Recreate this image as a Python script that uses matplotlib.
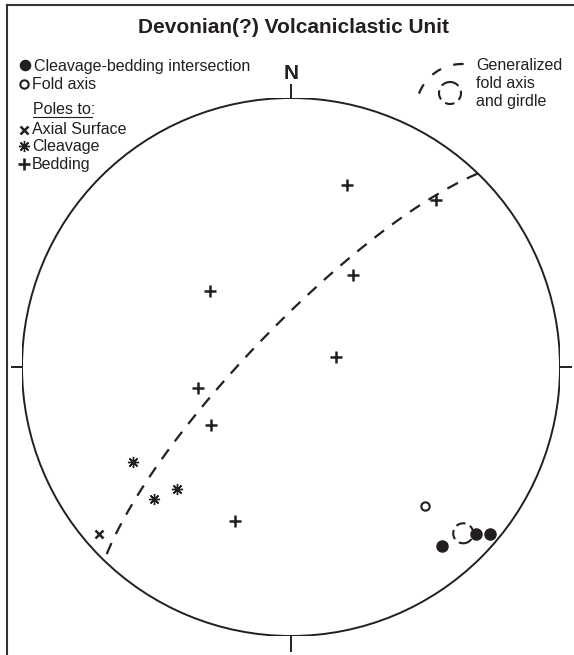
import numpy as np
import matplotlib.pyplot as plt
from matplotlib.patches import Circle

plt.rcParams['font.family'] = ['Liberation Sans', 'DejaVu Sans']

INK = '#231f20'

# Orientation data, trend / plunge in degrees (lower hemisphere)
bedding_trend = [17, 41, 34, 313, 77, 257, 234, 200]
bedding_plunge = [30, 19, 56, 56, 76, 61, 60, 39]

cleavage_trend = [239, 226, 223]
cleavage_plunge = [32, 30, 38]

axial_trend = [229]
axial_plunge = [6]

intersection_trend = [140, 132, 130]
intersection_plunge = [14, 8, 4]

fold_axis_trend = [136]
fold_axis_plunge = [29]

# generalized fold axis; the girdle is the plane normal to it
gen_axis_trend = 134
gen_axis_plunge = 12


def to_vec(trend, plunge):
    t = np.radians(trend)
    p = np.radians(plunge)
    return np.cos(p) * np.sin(t), np.cos(p) * np.cos(t), np.sin(p)


def equal_area(trend, plunge):
    x, y, z = to_vec(np.asarray(trend, float), np.asarray(plunge, float))
    k = 1.0 / np.sqrt(1.0 + z)
    return x * k, y * k


def great_circle(pole_trend, pole_plunge, n=300):
    strike = np.array([np.sin(np.radians(pole_trend - 90)),
                       np.cos(np.radians(pole_trend - 90)), 0.0])
    dip = np.array(to_vec(pole_trend + 180, 90 - pole_plunge))
    t = np.linspace(0, np.pi, n)
    v = np.outer(np.cos(t), strike) + np.outer(np.sin(t), dip)
    k = 1.0 / np.sqrt(1.0 + v[:, 2])
    return v[:, 0] * k, v[:, 1] * k


fig = plt.figure(figsize=(5.74, 6.55), dpi=100)

# page layer in pixel units for the frame, title and legend
sheet = fig.add_axes([0, 0, 1, 1])
sheet.set_xlim(0, 574)
sheet.set_ylim(655, 0)
sheet.axis('off')

sheet.plot([7, 574], [5, 5], color='#333333', lw=1.5)
sheet.plot([7, 7], [5, 655], color='#333333', lw=1.5)

sheet.text(294, 33, 'Devonian(?) Volcaniclastic Unit', ha='center', va='baseline',
           fontsize=15, fontweight='bold', color=INK)

# legend, left
fs = 11.5
star = (8, 2, 0)
sheet.plot(25, 64.5, 'o', ms=7.3, color=INK)
sheet.text(34, 70.5, 'Cleavage-bedding intersection', fontsize=fs, va='baseline', color=INK)
sheet.plot(23.5, 83.5, 'o', ms=6.0, mfc='white', mec=INK, mew=1.5)
sheet.text(32, 89, 'Fold axis', fontsize=fs, va='baseline', color=INK)
sheet.text(33, 113.5, 'Poles to:', fontsize=fs, va='baseline', color=INK)
sheet.plot([33, 92], [116.5, 116.5], color=INK, lw=0.8)
sheet.plot(23.5, 129.5, 'x', ms=6.0, color=INK, mew=1.8)
sheet.text(32, 134.5, 'Axial Surface', fontsize=fs, va='baseline', color=INK)
sheet.plot(23.5, 146, marker=star, ms=8, color=INK, mew=1.0)
sheet.text(32, 151.5, 'Cleavage', fontsize=fs, va='baseline', color=INK)
sheet.plot(24, 163.5, '+', ms=8.5, color=INK, mew=1.9)
sheet.text(32, 168.5, 'Bedding', fontsize=fs, va='baseline', color=INK)

# legend, right
ang = np.radians(np.linspace(88, 165, 60))
sheet.plot(462 + 46 * np.cos(ang), 110 - 46 * np.sin(ang), color=INK, lw=1.6,
           dashes=(4.7, 5.8))
sheet.add_patch(Circle((450, 93), 11, fill=False, ec=INK, lw=1.5,
                       linestyle=(0, (4.6, 2.6))))
sheet.text(476, 70, 'Generalized', fontsize=fs, va='baseline', color=INK)
sheet.text(476, 88.5, 'fold axis', fontsize=fs, va='baseline', color=INK)
sheet.text(476, 106, 'and girdle', fontsize=fs, va='baseline', color=INK)

# equal-area net
R = 269.0
ax = fig.add_axes([(291 - R) / 574, (655 - 367 - R) / 655, 2 * R / 574, 2 * R / 655])
ax.set_xlim(-1, 1)
ax.set_ylim(-1, 1)
ax.axis('off')

ax.add_patch(Circle((0, 0), 1, fill=False, ec=INK, lw=1.4))
ax.plot([0, 0], [1, 1 + 13 / R], color=INK, lw=1.4, clip_on=False)
ax.plot([0, 0], [-1, -1 - 15 / R], color=INK, lw=1.4, clip_on=False)
ax.plot([1, 1 + 11 / R], [0, 0], color=INK, lw=1.4, clip_on=False)
ax.plot([-1, -1 - 10 / R], [0, 0], color=INK, lw=1.4, clip_on=False)
ax.text(0, 1 + 19 / R, 'N', ha='center', va='baseline', fontsize=15,
        fontweight='bold', color=INK)

gx, gy = great_circle(gen_axis_trend, gen_axis_plunge)
ax.plot(gx, gy, color=INK, lw=1.6, dashes=(5.4, 4.5))

x, y = equal_area(bedding_trend, bedding_plunge)
ax.plot(x, y, '+', ms=8.5, color=INK, mew=1.8, ls='none')

x, y = equal_area(cleavage_trend, cleavage_plunge)
ax.plot(x, y, marker=star, ms=8, color=INK, mew=1.0, ls='none')

x, y = equal_area(axial_trend, axial_plunge)
ax.plot(x, y, 'x', ms=6.0, color=INK, mew=1.8, ls='none')

x, y = equal_area(intersection_trend, intersection_plunge)
ax.plot(x, y, 'o', ms=8.0, color=INK, ls='none')

x, y = equal_area(fold_axis_trend, fold_axis_plunge)
ax.plot(x, y, 'o', ms=6.0, mfc='white', mec=INK, mew=1.5, ls='none')

cx, cy = equal_area(gen_axis_trend, gen_axis_plunge)
ax.add_patch(Circle((cx, cy), 10 / R, fill=False, ec=INK, lw=1.5,
                    linestyle=(0, (4.6, 2.4))))

fig.savefig('out.png', dpi=100, facecolor='white')
